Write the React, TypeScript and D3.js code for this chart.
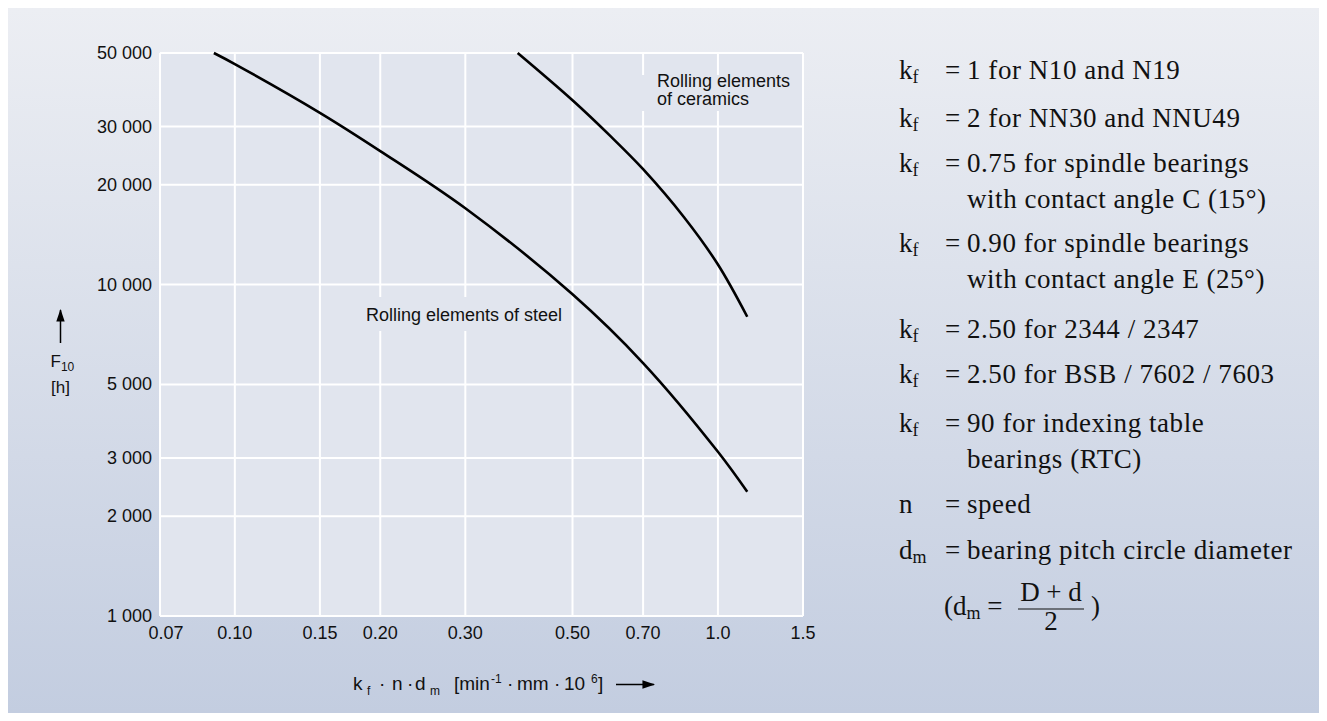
import React from 'react';
import * as d3 from 'd3';

// ---- data ----
const xTicks = [0.07, 0.1, 0.15, 0.2, 0.3, 0.5, 0.7, 1.0, 1.5];
const xTickLabels = ['0.07', '0.10', '0.15', '0.20', '0.30', '0.50', '0.70', '1.0', '1.5'];
const yTicks = [1000, 2000, 3000, 5000, 10000, 20000, 30000, 50000];
const yTickLabels = ['1 000', '2 000', '3 000', '5 000', '10 000', '20 000', '30 000', '50 000'];

const steelX = [0.0905, 0.1, 0.15, 0.2, 0.3, 0.5, 0.7, 1.0, 1.15];
const steelY = [50000, 46300, 33000, 25300, 17000, 9350, 5800, 3130, 2370];

const ceramicsX = [0.385, 0.5, 0.6, 0.7, 0.85, 1.0, 1.15];
const ceramicsY = [50000, 36000, 28000, 22300, 16000, 11500, 8000];

const steelLabel = 'Rolling elements of steel';
const ceramicsLabel = ['Rolling elements', 'of ceramics'];

const legendSymbols = [
  ['k', 'f'], ['k', 'f'], ['k', 'f'], ['k', 'f'], ['k', 'f'], ['k', 'f'], ['k', 'f'], ['n', ''], ['d', 'm'],
];
const legendTexts = [
  ['1 for N10 and N19'],
  ['2 for NN30 and NNU49'],
  ['0.75 for spindle bearings', 'with contact angle C (15°)'],
  ['0.90 for spindle bearings', 'with contact angle E (25°)'],
  ['2.50 for 2344 / 2347'],
  ['2.50 for BSB / 7602 / 7603'],
  ['90 for indexing table', 'bearings (RTC)'],
  ['speed'],
  ['bearing pitch circle diameter'],
];

// ---- layout ----
const W = 1327;
const H = 721;
const plot = { left: 160, right: 803, top: 53, bottom: 616 };
const legendRowY = [79, 127, 172, 252, 338, 383, 432, 513, 559];
const contDy = 36;

const sans = "'Liberation Sans', Arial, sans-serif";
const serif = "'Liberation Serif', 'Times New Roman', serif";
const plotFill = '#e1e5ee';
const ink = '#111';
const lgSize = 27;
const lgSpacing = 0.55;

export default function App() {
  const x = d3.scaleLog().domain([0.07, 1.5]).range([plot.left, plot.right]);
  const y = d3.scaleLog().domain([1000, 50000]).range([plot.bottom, plot.top]);
  const line = d3
    .line<[number, number]>()
    .x((d) => x(d[0]))
    .y((d) => y(d[1]))
    .curve(d3.curveCatmullRom.alpha(0.5));
  const steel = steelX.map((v, i) => [v, steelY[i]] as [number, number]);
  const ceramics = ceramicsX.map((v, i) => [v, ceramicsY[i]] as [number, number]);

  return (
    <svg width={W} height={H} style={{ position: 'absolute', left: 0, top: 0, display: 'block' }}>
      <defs>
        <linearGradient id="bg" x1="0" y1="0" x2="0" y2="1">
          <stop offset="0" stopColor="#eceef3" />
          <stop offset="1" stopColor="#c3cde0" />
        </linearGradient>
        <marker id="ah" viewBox="0 0 12 10" refX="11" refY="5" markerWidth="9" markerHeight="7" orient="auto">
          <path d="M0,1 L12,5 L0,9 Z" fill="#000" />
        </marker>
      </defs>
      <rect x={0} y={0} width={W} height={H} fill="#fff" />
      <rect x={8} y={8} width={W - 16} height={H - 16} fill="url(#bg)" />

      {/* plot area */}
      <rect x={plot.left} y={plot.top} width={plot.right - plot.left} height={plot.bottom - plot.top} fill={plotFill} />
      {xTicks.map((t) => (
        <line key={'gx' + t} x1={x(t)} x2={x(t)} y1={plot.top} y2={plot.bottom} stroke="#fff" strokeWidth={2} />
      ))}
      {yTicks.map((t) => (
        <line key={'gy' + t} x1={plot.left} x2={plot.right} y1={y(t)} y2={y(t)} stroke="#fff" strokeWidth={2} />
      ))}

      {/* label backgrounds that interrupt gridlines */}
      <rect x={355} y={297} width={214} height={34} fill={plotFill} />
      <rect x={640} y={75} width={160} height={36} fill={plotFill} />

      <path d={line(steel) || ''} fill="none" stroke="#000" strokeWidth={2.6} strokeLinecap="butt" />
      <path d={line(ceramics) || ''} fill="none" stroke="#000" strokeWidth={2.6} strokeLinecap="butt" />

      <text x={366} y={321} fontFamily={sans} fontSize={18} fill={ink}>
        {steelLabel}
      </text>
      <text fontFamily={sans} fontSize={18} fill={ink}>
        {ceramicsLabel.map((s, i) => (
          <tspan key={i} x={657} y={87 + i * 18}>
            {s}
          </tspan>
        ))}
      </text>

      {/* y tick labels */}
      {yTicks.map((t, i) => (
        <text key={'yl' + t} x={152} y={y(t) + 6} textAnchor="end" fontFamily={sans} fontSize={18} fill={ink}>
          {yTickLabels[i]}
        </text>
      ))}
      {/* x tick labels */}
      {xTicks.map((t, i) => (
        <text
          key={'xl' + t}
          x={x(t) + (i === 0 ? 6 : 0)}
          y={639}
          textAnchor="middle"
          fontFamily={sans}
          fontSize={18}
          fill={ink}
        >
          {xTickLabels[i]}
        </text>
      ))}

      {/* y axis title */}
      <line x1={60.5} x2={60.5} y1={343} y2={310} stroke="#000" strokeWidth={1.5} markerEnd="url(#ah)" />
      <text x={50.5} y={367} fontFamily={sans} fontSize={17} fill={ink}>
        F<tspan fontSize={12} dy={4}>10</tspan>
      </text>
      <text x={51} y={393} fontFamily={sans} fontSize={17} fill={ink}>
        [h]
      </text>

      {/* x axis title */}
      <g fontFamily={sans} fontSize={19} fill={ink}>
        <text x={353} y={690}>k</text>
        <text x={367} y={695} fontSize={12}>f</text>
        <text x={379} y={690}>·</text>
        <text x={392} y={690}>n</text>
        <text x={407} y={690}>·</text>
        <text x={415} y={690}>d</text>
        <text x={430} y={695} fontSize={12}>m</text>
        <text x={454} y={690}>[min</text>
        <text x={491} y={683} fontSize={12}>-1</text>
        <text x={507} y={690}>·</text>
        <text x={517} y={690}>mm</text>
        <text x={554} y={690}>·</text>
        <text x={564} y={690}>10</text>
        <text x={591} y={683} fontSize={12}>6</text>
        <text x={598} y={690}>]</text>
      </g>
      <line x1={616} x2={654} y1={684.5} y2={684.5} stroke="#000" strokeWidth={1.5} markerEnd="url(#ah)" />

      {/* legend */}
      {legendTexts.map((lines, i) => {
        const yy = legendRowY[i];
        const [sym, sub] = legendSymbols[i];
        return (
          <g key={'lg' + i} fontFamily={serif} fill={ink}>
            <text x={899} y={yy} fontSize={lgSize}>
              {sym}
              {sub ? (
                <tspan fontSize={18} dy={4}>
                  {sub}
                </tspan>
              ) : null}
            </text>
            <text x={945} y={yy} fontSize={lgSize}>
              =
            </text>
            {lines.map((s, j) => (
              <text key={j} x={967} y={yy + j * contDy} fontSize={lgSize} letterSpacing={lgSpacing}>
                {s}
              </text>
            ))}
          </g>
        );
      })}
      {/* formula */}
      <g fontFamily={serif} fill={ink}>
        <text x={944} y={615} fontSize={lgSize}>
          (d<tspan fontSize={18} dy={4}>m</tspan>
          <tspan dy={-4}> =</tspan>
        </text>
        <text x={1051} y={601} fontSize={lgSize} textAnchor="middle">
          D + d
        </text>
        <line x1={1018} x2={1084} y1={609} y2={609} stroke={ink} strokeWidth={1.2} />
        <text x={1051} y={630} fontSize={lgSize} textAnchor="middle">
          2
        </text>
        <text x={1091} y={615} fontSize={lgSize}>
          )
        </text>
      </g>
    </svg>
  );
}
